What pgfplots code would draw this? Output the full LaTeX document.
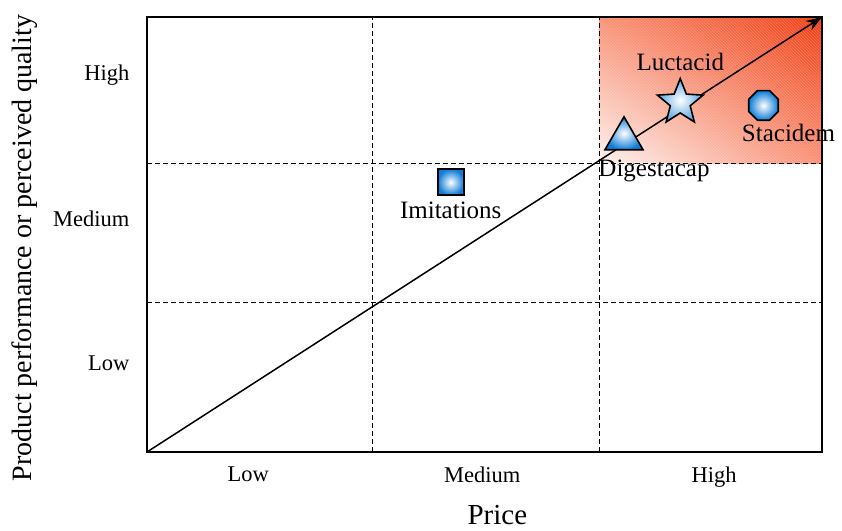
\documentclass[border=0pt]{standalone}
\usepackage{pgfplots}
\pgfplotsset{compat=1.18}
\usepackage{fontspec}
\setmainfont{Liberation Serif}
\usetikzlibrary{arrows.meta,patterns,shapes.geometric,calc,shadings}
\definecolor{hot}{RGB}{240,60,16}
\definecolor{salmon}{RGB}{249,143,115}
\definecolor{pale}{RGB}{253,242,238}
\definecolor{mblue}{RGB}{15,125,215}
\begin{document}
\begin{tikzpicture}
\begin{axis}[
  scale only axis, width=675pt, height=435pt,
  xmin=0, xmax=3, ymin=0, ymax=3,
  axis on top,
  axis line style={line width=1.5pt},
  xtick={0.45,1.49,2.52}, xticklabels={Low,Medium,High},
  ytick={0.61,1.61,2.6}, yticklabels={Low,Medium,High},
  major tick length=0pt,
  ticklabel style={font=\fontsize{22.5}{24}\selectfont},
  xticklabel style={yshift=-11pt},
  yticklabel style={xshift=-14pt},
  extra x ticks={1,2.01}, extra x tick labels={},
  extra y ticks={1.034,1.993}, extra y tick labels={},
  extra tick style={grid=major},
  major grid style={black, line width=0.9pt, dash pattern=on 5pt off 3pt},
  xlabel={Price}, ylabel={Product performance or perceived quality},
  xlabel style={font=\fontsize{29}{31}\selectfont, at={(axis description cs:0.519,-0.145)}, anchor=center},
  ylabel style={font=\fontsize{28}{30}\selectfont, at={(axis description cs:-0.181,0.469)}, anchor=center},
  clip=false,
]
% shaded high-high region
\addplot[draw=none, shade, shading=bilinear interpolation, lower left=pale, upper right=hot, upper left=salmon, lower right=salmon]
  coordinates {(2.01,1.993) (3,1.993) (3,3) (2.01,3) (2.01,1.993)};
\addplot[draw=none, pattern=north west lines, pattern color=white, opacity=0.22]
  coordinates {(2.01,1.993) (3,1.993) (3,3) (2.01,3) (2.01,1.993)};
% diagonal arrow
\addplot[black, line width=1.5pt, -{Stealth[length=16pt,width=11pt]}] coordinates {(0,0) (3,3)};
% products
\addplot[draw=none, mark=none, nodes near coords={},
  every node near coord/.append style={anchor=center, rectangle, draw=black, line width=1.6pt,
    minimum size=26pt, inner sep=0pt, inner color=white, outer color=mblue,
    label={[font=\fontsize{25}{27}\selectfont, yshift=-2pt]below:Imitations}}]
  coordinates {(1.35,1.86)};
\addplot[draw=none, mark=none, nodes near coords={},
  every node near coord/.append style={anchor=center, regular polygon, regular polygon sides=3, draw=black, line width=1.6pt,
    minimum size=44pt, inner sep=0pt, inner color=white, outer color=mblue,
    label={[font=\fontsize{25}{27}\selectfont, xshift=30pt, yshift=-6pt]below:Digestacap}}]
  coordinates {(2.12,2.16)};
\addplot[draw=none, mark=none, nodes near coords={},
  every node near coord/.append style={anchor=center, star, star points=5, star point ratio=2.3, draw=black, line width=1.6pt,
    minimum size=48pt, inner sep=0pt, inner color=white, outer color=mblue!70,
    label={[font=\fontsize{25}{27}\selectfont, yshift=2pt]above:Luctacid}}]
  coordinates {(2.37,2.41)};
\addplot[draw=none, mark=none, nodes near coords={},
  every node near coord/.append style={anchor=center, regular polygon, regular polygon sides=8, draw=black, line width=1.6pt,
    minimum size=32pt, inner sep=0pt, inner color=white, outer color=mblue,
    label={[font=\fontsize{25}{27}\selectfont, xshift=25pt, yshift=0pt]below:Stacidem}}]
  coordinates {(2.74,2.39)};
\end{axis}
\pgfresetboundingbox
\path (current axis.south west) ++(-147pt,-78pt) rectangle ($(current axis.north east)+(20pt,17pt)$);
\end{tikzpicture}
\end{document}
